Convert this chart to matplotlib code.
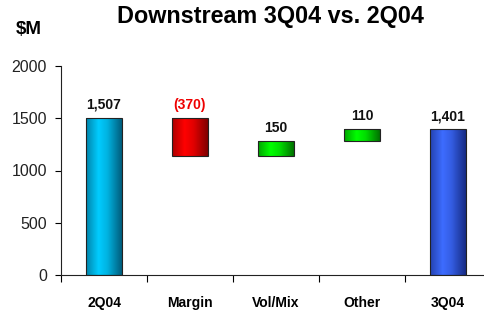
import numpy as np
import matplotlib
matplotlib.use("Agg")
import matplotlib.pyplot as plt
from matplotlib.colors import to_rgb

plt.rcParams['font.family'] = ['Liberation Sans', 'DejaVu Sans']

categories = ['2Q04', 'Margin', 'Vol/Mix', 'Other', '3Q04']
values = [1507, -370, 150, 110, 1401]
value_labels = ['1,507', '(370)', '150', '110', '1,401']
is_total = [True, False, False, False, True]
yticks = [0, 500, 1000, 1500, 2000]

bright = ['#00ccff', '#ff0000', '#00ff00', '#00ff00', '#3d6cff']
dark = ['#004a66', '#6a0000', '#005a00', '#005a00', '#102070']
label_colors = ['#111111', '#ee0000', '#111111', '#111111', '#111111']

fig = plt.figure(figsize=(4.85, 3.15), dpi=100)
ax = fig.add_axes([61/485, 40/315, 430/485, 209/315])

x = np.arange(len(categories))
bottoms, heights = [], []
running = 0
for v, tot in zip(values, is_total):
    if tot:
        bottoms.append(0); heights.append(v); running = v
    else:
        if v < 0:
            bottoms.append(running + v); heights.append(-v)
        else:
            bottoms.append(running); heights.append(v)
        running += v

width = 0.41
bars = ax.bar(x, heights, bottom=bottoms, width=width, edgecolor='#222222', linewidth=0.8, zorder=3)

# cylinder-like horizontal gradient
t = np.linspace(0, 1, 64)
prof = np.interp(t, [0, 0.35, 0.6, 1.0], [0.45, 1.0, 0.8, 0.15])
for b, bc, dc in zip(bars, bright, dark):
    bc = np.array(to_rgb(bc)); dc = np.array(to_rgb(dc))
    img = dc[None, :] + (bc - dc)[None, :] * prof[:, None]
    img = img[None, :, :]
    x0 = b.get_x(); y0 = b.get_y()
    im = ax.imshow(img, extent=(x0, x0 + b.get_width(), y0, y0 + b.get_height()),
                   aspect='auto', zorder=2.5, interpolation='bilinear')
    im.set_clip_path(b)
    b.set_facecolor('none')

for xi, b, lab, c in zip(x, bars, value_labels, label_colors):
    top = b.get_y() + b.get_height()
    ax.annotate(lab, (xi, top), xytext=(0, 4), textcoords='offset points',
                ha='center', va='bottom', fontsize=10, fontweight='bold', color=c)

ax.set_xlim(-0.5, len(categories) - 0.5)
ax.set_ylim(0, 2000)
ax.set_yticks(yticks)
ax.set_yticklabels([str(v) for v in yticks], fontsize=11.5, color='#222222')
ax.set_xticks(x)
ax.set_xticklabels(categories, fontsize=10, fontweight='bold')
ax.set_xticks(np.arange(-0.5, len(categories), 1.0), minor=True)
ax.tick_params(axis='x', which='major', length=0, pad=15)
ax.tick_params(axis='x', which='minor', length=5, width=0.8, direction='out')
ax.tick_params(axis='y', length=4, width=0.8, direction='out', pad=6)
ax.spines['top'].set_visible(False)
ax.spines['right'].set_visible(False)
for s in ['left', 'bottom']:
    ax.spines[s].set_linewidth(0.8)
    ax.spines[s].set_color('#222222')

fig.text(270.5/485, 1 - 22.7/315, 'Downstream 3Q04 vs. 2Q04', ha='center', va='baseline',
         fontsize=16.8, fontweight='bold')
fig.text(16/485, 1 - 33.5/315, '$M', ha='left', va='baseline', fontsize=13.5, fontweight='bold')

fig.savefig('out.png', dpi=100)
